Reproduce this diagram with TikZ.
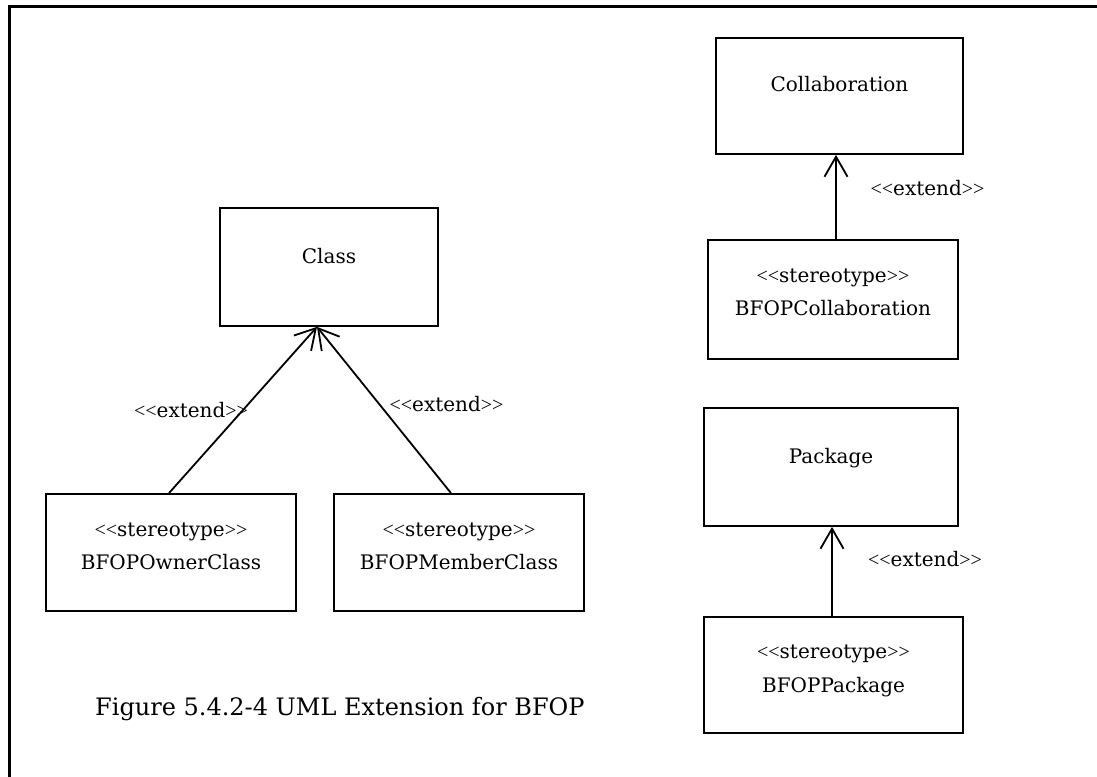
\documentclass[tikz,border=0pt]{standalone}
\usepackage{fontspec}
\setmainfont{DejaVu Serif}[Ligatures=TeXOff]
\newfontfamily\brfont{Liberation Serif}[Ligatures=TeXOff]
\newcommand\opn{{\brfont<<}}
\newcommand\cls{{\brfont>>}}
\usetikzlibrary{arrows.meta}
\begin{document}
\begin{tikzpicture}[x=1pt,y=-1pt,
  umlbox/.style={draw,line width=1.8pt,inner sep=0pt},
  txt/.style={font=\fontsize{20}{24}\selectfont,inner sep=0pt,anchor=base},
  captxt/.style={font=\fontsize{24}{28}\selectfont,inner sep=0pt,anchor=base west},
  conn/.style={draw,line width=1.8pt,-{Straight Barb[length=20pt,width=23pt]}}]
\useasboundingbox (0,0) rectangle (1097,776);
\clip (0,0) rectangle (1097,776);
% frame
\draw[line width=3pt] (9.5,800) -- (9.5,7) -- (1120,7);
% boxes
\node[umlbox,minimum width=218pt,minimum height=118pt] (class) at (329,267) {};
\node[umlbox,minimum width=250pt,minimum height=117pt] (owner) at (171,552.5) {};
\node[umlbox,minimum width=250pt,minimum height=117pt] (member) at (459,552.5) {};
\node[umlbox,minimum width=247pt,minimum height=116pt] (collab) at (839.5,96) {};
\node[umlbox,minimum width=250pt,minimum height=119pt] (bcollab) at (833,299.5) {};
\node[umlbox,minimum width=254pt,minimum height=118pt] (package) at (831,467) {};
\node[umlbox,minimum width=259pt,minimum height=116pt] (bpackage) at (833.5,675) {};
% texts
\node[txt] (classT) at (329,263) {Class};
\node[txt] (collabT) at (839.5,92) {Collaboration};
\node[txt] (packageT) at (831,463) {Package};
\node[txt] (ownerS) at (171,536) {\opn stereotype\cls};
\node[txt] (ownerN) at (171,569) {BFOPOwnerClass};
\node[txt] (memberS) at (459,536) {\opn stereotype\cls};
\node[txt] (memberN) at (459,569) {BFOPMemberClass};
\node[txt] (bcollabS) at (833,282) {\opn stereotype\cls};
\node[txt] (bcollabN) at (833,315) {BFOPCollaboration};
\node[txt] (bpackageS) at (833.5,658) {\opn stereotype\cls};
\node[txt] (bpackageN) at (833.5,692) {BFOPPackage};
% connectors
\draw[conn] ([xshift=-2pt]owner.north) -- ([xshift=-12pt]class.south);
\draw[conn] ([xshift=-8pt]member.north) -- ([xshift=-12pt]class.south);
\draw[conn] ([xshift=3pt]bcollab.north) -- ([xshift=-3.5pt]collab.south);
\draw[conn] ([xshift=-1.5pt]bpackage.north) -- ([xshift=1pt]package.south);
% connector labels
\node[txt] (ext1) at (191,417) {\opn extend\cls};
\node[txt] (ext2) at (446.5,411) {\opn extend\cls};
\node[txt] (ext3) at (927.5,195) {\opn extend\cls};
\node[txt] (ext4) at (925,566) {\opn extend\cls};
% caption
\node[captxt] (caption) at (95,715) {Figure 5.4.2-4 UML Extension for BFOP};
\end{tikzpicture}
\end{document}
